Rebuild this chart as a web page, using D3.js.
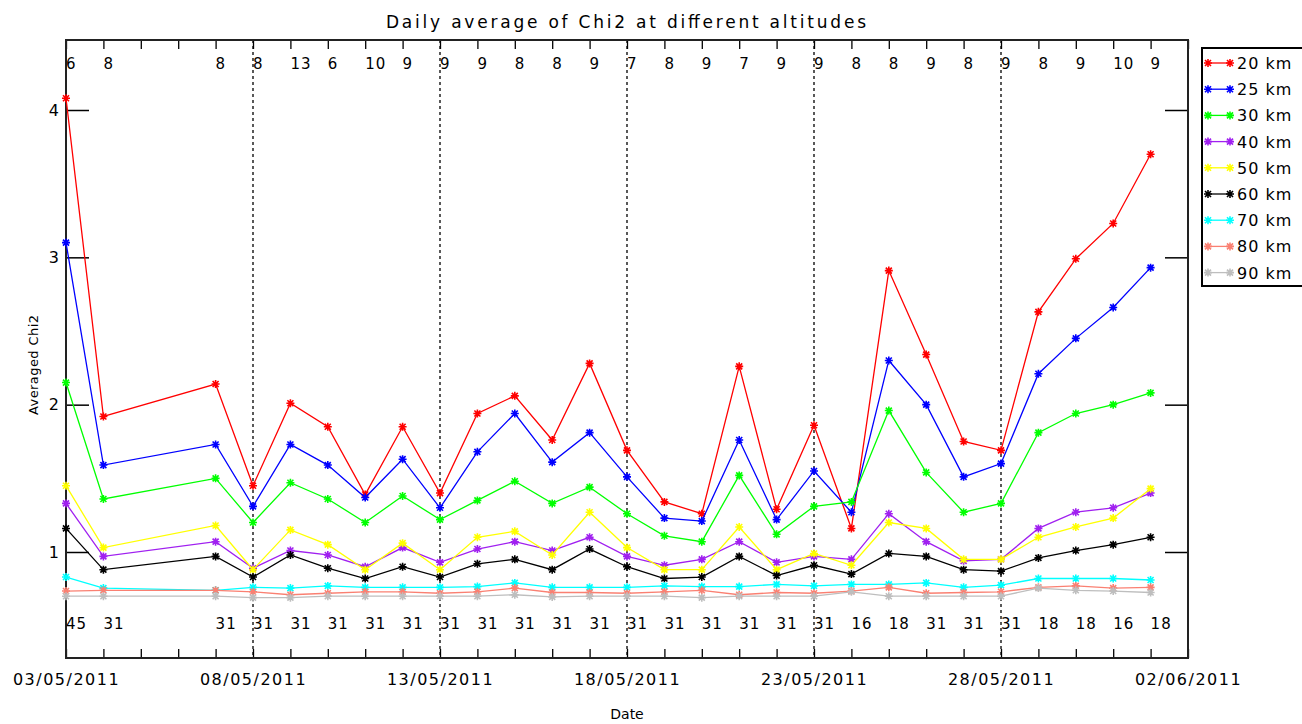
<!DOCTYPE html>
<html>
<head>
<meta charset="utf-8">
<script src="https://cdn.jsdelivr.net/npm/d3@7"></script>
<style>
  body { margin: 0; background: #fff; }
  text { font-family: "DejaVu Sans", sans-serif; fill: #000; }
</style>
</head>
<body>
<div id="chart"></div>
<script>
// days with data
var dates = ["2011-05-03", "2011-05-04", "2011-05-07", "2011-05-08", "2011-05-09", "2011-05-10",
    "2011-05-11", "2011-05-12", "2011-05-13", "2011-05-14", "2011-05-15", "2011-05-16",
    "2011-05-17", "2011-05-18", "2011-05-19", "2011-05-20", "2011-05-21", "2011-05-22",
    "2011-05-23", "2011-05-24", "2011-05-25", "2011-05-26", "2011-05-27", "2011-05-28",
    "2011-05-29", "2011-05-30", "2011-05-31", "2011-06-01"];

// counts written along the top and the bottom
var topCounts = [6, 8, 8, 8, 13, 6, 10, 9, 9, 9, 8, 8, 9, 7, 8, 9, 7, 9, 9, 8, 8, 9, 8, 9, 8, 9, 10, 9];
var bottomCounts = [45, 31, 31, 31, 31, 31, 31, 31, 31, 31, 31, 31, 31, 31, 31, 31, 31, 31, 31, 16, 18, 31, 31, 31, 18, 18, 16, 18];

var altitudes = ["20 km", "25 km", "30 km", "40 km", "50 km", "60 km", "70 km", "80 km", "90 km"];
var colors = ["#ff0000", "#0000ff", "#00ff00", "#a020f0", "#ffff00", "#000000", "#00ffff", "#fa8072", "#bebebe"];

var chi20 = [4.08, 1.92, 2.14, 1.45, 2.01, 1.85, 1.39, 1.85, 1.40, 1.94, 2.06, 1.76, 2.28, 1.69, 1.34, 1.26, 2.26, 1.29, 1.86, 1.16, 2.91, 2.34, 1.75, 1.69, 2.63, 2.99, 3.23, 3.70];
var chi25 = [3.10, 1.59, 1.73, 1.31, 1.73, 1.59, 1.37, 1.63, 1.30, 1.68, 1.94, 1.61, 1.81, 1.51, 1.23, 1.21, 1.76, 1.22, 1.55, 1.27, 2.30, 2.00, 1.51, 1.60, 2.21, 2.45, 2.66, 2.93];
var chi30 = [2.15, 1.36, 1.50, 1.20, 1.47, 1.36, 1.20, 1.38, 1.22, 1.35, 1.48, 1.33, 1.44, 1.26, 1.11, 1.07, 1.52, 1.12, 1.31, 1.34, 1.96, 1.54, 1.27, 1.33, 1.81, 1.94, 2.00, 2.08];
var chi40 = [1.33, 0.97, 1.07, 0.89, 1.01, 0.98, 0.90, 1.03, 0.93, 1.02, 1.07, 1.01, 1.10, 0.97, 0.91, 0.95, 1.07, 0.93, 0.97, 0.95, 1.26, 1.07, 0.94, 0.95, 1.16, 1.27, 1.30, 1.40];
var chi50 = [1.45, 1.03, 1.18, 0.88, 1.15, 1.05, 0.88, 1.06, 0.88, 1.10, 1.14, 0.98, 1.27, 1.03, 0.88, 0.88, 1.17, 0.88, 0.99, 0.91, 1.20, 1.16, 0.95, 0.95, 1.10, 1.17, 1.23, 1.43];
var chi60 = [1.16, 0.88, 0.97, 0.83, 0.98, 0.89, 0.82, 0.90, 0.83, 0.92, 0.95, 0.88, 1.02, 0.90, 0.82, 0.83, 0.97, 0.84, 0.91, 0.85, 0.99, 0.97, 0.88, 0.87, 0.96, 1.01, 1.05, 1.10];
var chi70 = [0.83, 0.755, 0.74, 0.76, 0.755, 0.77, 0.76, 0.76, 0.76, 0.765, 0.79, 0.76, 0.76, 0.76, 0.77, 0.765, 0.765, 0.78, 0.77, 0.78, 0.78, 0.79, 0.76, 0.775, 0.82, 0.82, 0.82, 0.81];
var chi80 = [0.735, 0.74, 0.74, 0.73, 0.71, 0.72, 0.73, 0.73, 0.72, 0.73, 0.755, 0.725, 0.725, 0.72, 0.73, 0.74, 0.71, 0.725, 0.72, 0.735, 0.76, 0.72, 0.725, 0.73, 0.76, 0.77, 0.755, 0.76];
var chi90 = [0.70, 0.70, 0.70, 0.69, 0.69, 0.70, 0.70, 0.70, 0.70, 0.70, 0.71, 0.695, 0.70, 0.70, 0.70, 0.69, 0.70, 0.70, 0.70, 0.73, 0.70, 0.70, 0.70, 0.70, 0.755, 0.74, 0.735, 0.725];

var series = [chi20, chi25, chi30, chi40, chi50, chi60, chi70, chi80, chi90];

var width = 1302;
var height = 724;
// plot frame (don't call these top/left: window.top is read only)
var plotLeft = 66, plotRight = 1188, plotTop = 40, plotBottom = 658;

var parse = d3.utcParse("%Y-%m-%d");
var days = dates.map(parse);

var svg = d3.select("#chart")
    .append("svg")
    .attr("width", width)
    .attr("height", height);

var x = d3.scaleUtc()
    .domain([parse("2011-05-03"), parse("2011-06-02")])
    .range([plotLeft, plotRight]);

// 1 -> 552px, 4 -> 110px
var y = d3.scaleLinear()
    .domain([1, 4])
    .range([552, 110]);

var fmt = d3.utcFormat("%d/%m/%Y");

// title
svg.append("text")
    .attr("x", 626)
    .attr("y", 28)
    .attr("text-anchor", "middle")
    .attr("textLength", 480)
    .attr("lengthAdjust", "spacing")
    .style("font-size", "17px")
    .text("Daily average of Chi2 at different altitudes");

// dotted lines every 5 days
var fiveDays = d3.utcDay.range(parse("2011-05-08"), parse("2011-05-29"), 5);
svg.selectAll(".vline")
    .data(fiveDays)
    .enter()
    .append("line")
    .attr("class", "vline")
    .attr("x1", function (d) { return x(d); })
    .attr("x2", function (d) { return x(d); })
    .attr("y1", plotTop)
    .attr("y2", plotBottom)
    .attr("stroke", "#000")
    .attr("stroke-width", 1.3)
    .attr("stroke-dasharray", "3,3");

// axes
var allDays = d3.utcDay.range(parse("2011-05-03"), parse("2011-06-03"));

var xBottom = d3.axisBottom(x)
    .tickValues(allDays)
    .tickSize(-9)
    .tickPadding(16)
    .tickFormat(function (d) {
        return (Math.round((d - allDays[0]) / 864e5) % 5 === 0) ? fmt(d) : "";
    });

svg.append("g")
    .attr("transform", "translate(0," + plotBottom + ")")
    .call(xBottom)
    .call(function (g) { g.select(".domain").remove(); })
    .call(function (g) {
        g.selectAll("line").attr("stroke", "#000").attr("stroke-width", 1.3);
        g.selectAll("text")
            .style("font-size", "16px")
            .style("letter-spacing", "1.5px")
            .style("font-family", "DejaVu Sans, sans-serif");
    });

svg.append("g")
    .attr("transform", "translate(0," + plotTop + ")")
    .call(d3.axisTop(x).tickValues(allDays).tickSize(-9).tickFormat(""))
    .call(function (g) { g.select(".domain").remove(); })
    .call(function (g) { g.selectAll("line").attr("stroke", "#000").attr("stroke-width", 1.3); });

svg.append("g")
    .attr("transform", "translate(" + plotLeft + ",0)")
    .call(d3.axisLeft(y).tickValues([1, 2, 3, 4]).tickSize(-23).tickPadding(7).tickFormat(d3.format("d")))
    .call(function (g) { g.select(".domain").remove(); })
    .call(function (g) {
        g.selectAll("line").attr("stroke", "#000").attr("stroke-width", 1.5);
        g.selectAll("text")
            .style("font-size", "16px")
            .style("font-family", "DejaVu Sans, sans-serif");
    });

svg.append("g")
    .attr("transform", "translate(" + plotRight + ",0)")
    .call(d3.axisRight(y).tickValues([1, 2, 3, 4]).tickSize(-23).tickFormat(""))
    .call(function (g) { g.select(".domain").remove(); })
    .call(function (g) { g.selectAll("line").attr("stroke", "#000").attr("stroke-width", 1.5); });

// frame
svg.append("rect")
    .attr("x", plotLeft)
    .attr("y", plotTop)
    .attr("width", plotRight - plotLeft)
    .attr("height", plotBottom - plotTop)
    .attr("fill", "none")
    .attr("stroke", "#222")
    .attr("stroke-width", 2);

// counts
svg.selectAll(".topCount")
    .data(topCounts)
    .enter()
    .append("text")
    .attr("class", "topCount")
    .attr("x", function (d, i) { return x(days[i]); })
    .attr("y", 69)
    .style("font-size", "15px")
    .style("letter-spacing", "1px")
    .text(function (d) { return d; });

svg.selectAll(".bottomCount")
    .data(bottomCounts)
    .enter()
    .append("text")
    .attr("class", "bottomCount")
    .attr("x", function (d, i) { return x(days[i]); })
    .attr("y", 629)
    .style("font-size", "15px")
    .style("letter-spacing", "1px")
    .text(function (d) { return d; });

// asterisk marker, like psym=2
var star = "M-4,0H4M0,-4V4M-3,-3L3,3M-3,3L3,-3";

var line = d3.line()
    .x(function (d, i) { return x(days[i]); })
    .y(function (d) { return y(d); });

series.forEach(function (vals, k) {
    var g = svg.append("g");
    g.append("path")
        .attr("d", line(vals))
        .attr("fill", "none")
        .attr("stroke", colors[k])
        .attr("stroke-width", 1.3);

    g.selectAll("path.pt")
        .data(vals)
        .enter()
        .append("path")
        .attr("class", "pt")
        .attr("d", star)
        .attr("transform", function (d, i) { return "translate(" + x(days[i]) + "," + y(d) + ")"; })
        .attr("fill", "none")
        .attr("stroke", colors[k])
        .attr("stroke-width", 1.6);
});

// axis titles
svg.append("text")
    .attr("x", 627)
    .attr("y", 719)
    .attr("text-anchor", "middle")
    .style("font-size", "14px")
    .text("Date");

svg.append("text")
    .attr("transform", "translate(38,365) rotate(-90)")
    .attr("text-anchor", "middle")
    .attr("textLength", 100)
    .attr("lengthAdjust", "spacing")
    .style("font-size", "13px")
    .text("Averaged Chi2");

// legend
var legendTop = 63, legendStep = 26.2;

svg.append("rect")
    .attr("x", 1202)
    .attr("y", 48)
    .attr("width", 120)
    .attr("height", 238)
    .attr("fill", "#fff")
    .attr("stroke", "#000")
    .attr("stroke-width", 2);

var legend = svg.selectAll(".legend")
    .data(altitudes)
    .enter()
    .append("g")
    .attr("class", "legend")
    .attr("transform", function (d, i) {
        return "translate(0," + (legendTop + i * legendStep) + ")";
    });

legend.append("line")
    .attr("x1", 1208)
    .attr("x2", 1230)
    .attr("stroke", function (d, i) { return colors[i]; })
    .attr("stroke-width", 1.3);

legend.append("path")
    .attr("d", star)
    .attr("transform", "translate(1208,0)")
    .attr("stroke", function (d, i) { return colors[i]; })
    .attr("stroke-width", 1.6);

legend.append("path")
    .attr("d", star)
    .attr("transform", "translate(1230,0)")
    .attr("stroke", function (d, i) { return colors[i]; })
    .attr("stroke-width", 1.6);

legend.append("text")
    .attr("x", 1237)
    .attr("y", 6)
    .style("font-size", "16px")
    .style("letter-spacing", "1px")
    .text(function (d) { return d; });
</script>
</body>
</html>
